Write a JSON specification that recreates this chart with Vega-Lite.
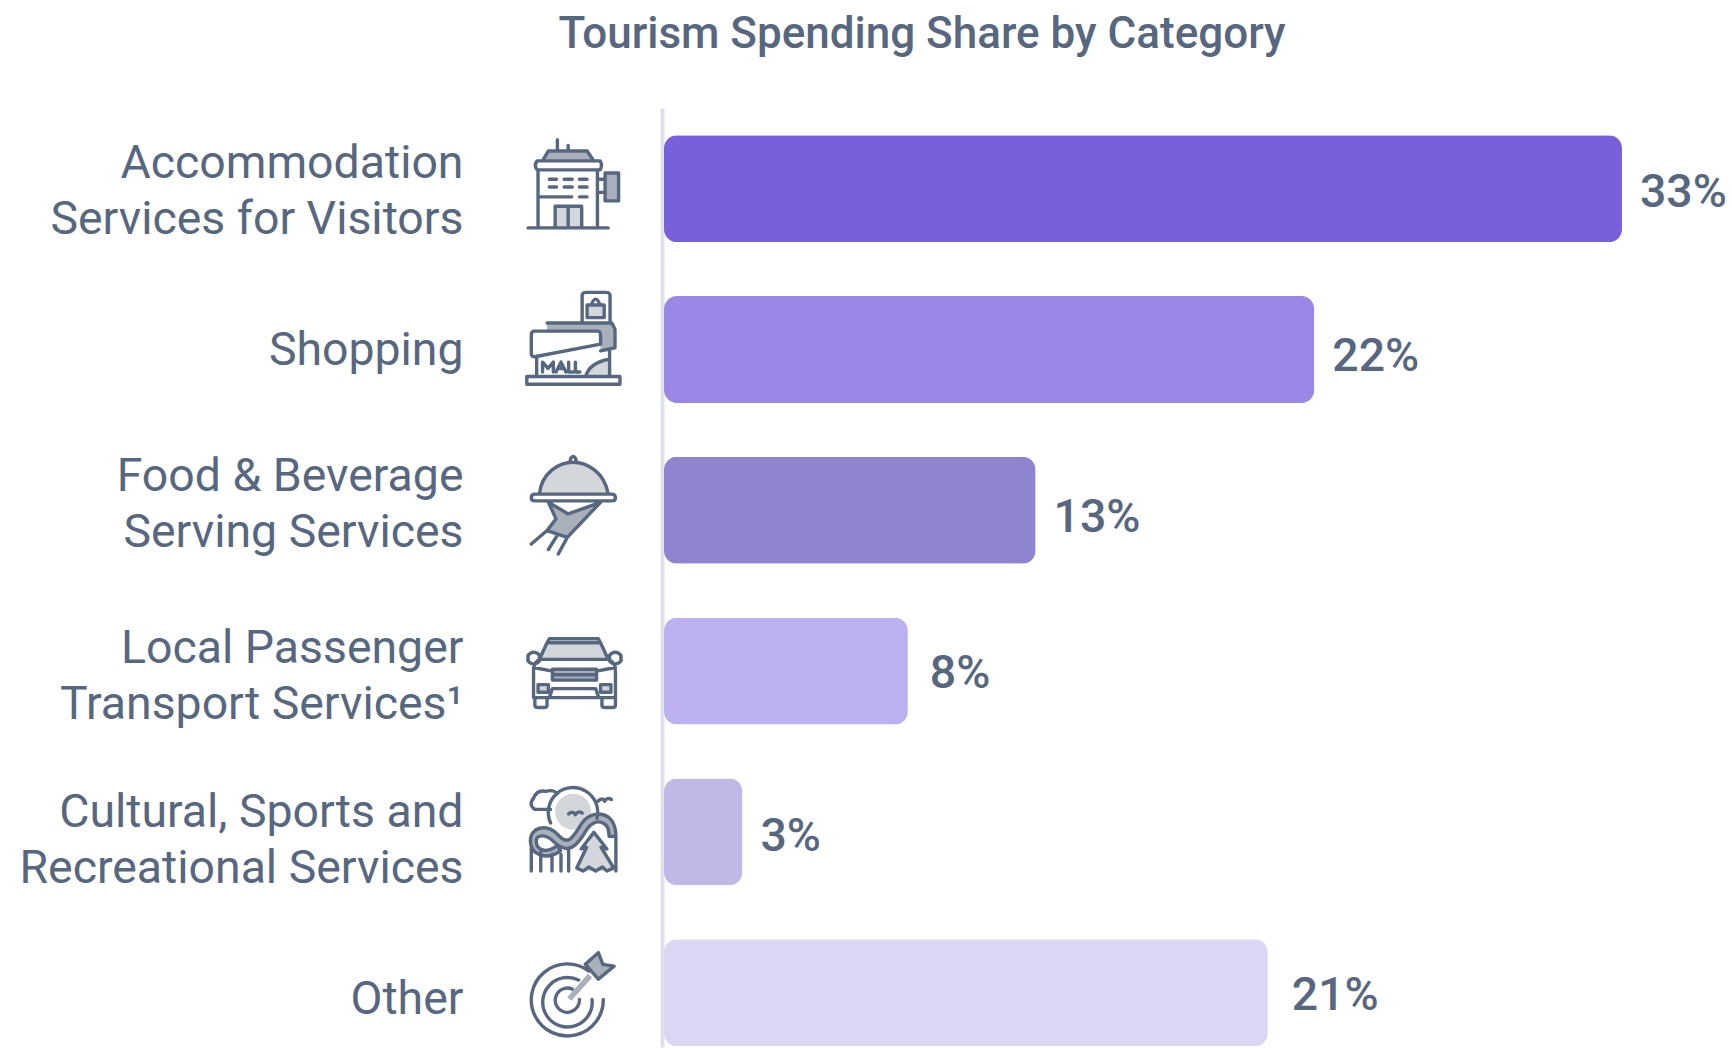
{
"$schema":"https://vega.github.io/schema/vega-lite/v6.json",
"width":1068,"height":939,
"autosize":{"type":"none"},
"padding":{"left":664,"top":108,"right":0,"bottom":1},
"background":"white",
"title":{"text":"Tourism Spending Share by Category","font":"Roboto","fontSize":44,"fontWeight":500,"color":"#56677F","anchor":"middle","frame":"group","dx":-276,"offset":51},
"config":{"view":{"stroke":null}},
"data":{"values":[
{"category":"Accommodation\nServices for Visitors","share":33,"label":"33%"},
{"category":"Shopping","share":22.4,"label":"22%"},
{"category":"Food & Beverage\nServing Services","share":12.8,"label":"13%"},
{"category":"Local Passenger\nTransport Services¹","share":8.4,"label":"8%"},
{"category":"Cultural, Sports and\nRecreational Services","share":2.7,"label":"3%"},
{"category":"Other","share":20.8,"label":"21%"}
]},
"resolve":{"scale":{"shape":"independent"}},
"encoding":{
"y":{"field":"category","type":"nominal","sort":null,"title":null,
"scale":{"domain":["Accommodation\nServices for Visitors","Shopping","Food & Beverage\nServing Services","Local Passenger\nTransport Services¹","Cultural, Sports and\nRecreational Services","Other"],"paddingInner":0.335,"paddingOuter":0.0875,"align":0.97},
"axis":{"orient":"left","offset":2,"ticks":false,"grid":false,"domainColor":"#DEE1EC","domainWidth":4,"labelPadding":199,"labelFont":"Roboto","labelFontSize":46.4,"labelColor":"#56677F","labelLineHeight":56,"labelLimit":600,"labelBaseline":"middle","labelAlign":"right","labelBound":false,"labelOverlap":false,"labelExpr":"split(datum.label,'\\n')",
"labelOffset":{"expr":"datum.value=='Shopping'?1:datum.value=='Other'?7:indexof(datum.value,'Accommodation')==0?-25:indexof(datum.value,'Food')==0?-33:indexof(datum.value,'Local')==0?-22:-19"}}}
},
"layer":[
{"mark":{"type":"bar","cornerRadius":13},
"encoding":{
"x":{"field":"share","type":"quantitative","title":null,"axis":null,"scale":{"domain":[0,36.79],"nice":false,"zero":false}},
"color":{"field":"category","type":"nominal","legend":null,"scale":{"domain":["Accommodation\nServices for Visitors","Shopping","Food & Beverage\nServing Services","Local Passenger\nTransport Services¹","Cultural, Sports and\nRecreational Services","Other"],"range":["#7860DC","#9B87E5","#8F84CF","#BCB0EE","#C0B8E6","#DCD6F5"]}}}},
{"mark":{"type":"text","align":"left","baseline":"middle","dx":{"expr":"datum.label=='8%'?22:datum.label=='21%'?24:18"},"dy":{"expr":"datum.label=='33%'?4:datum.label=='22%'||datum.label=='13%'?7.5:datum.label=='3%'?5:3"},"font":"Roboto","fontSize":46.4,"fontWeight":500,"color":"#56677F"},
"encoding":{"x":{"field":"share","type":"quantitative"},"text":{"field":"label"}}},
{"mark":{"type":"point","filled":true,"color":"#D3D7DC","opacity":1,"size":8100,"strokeWidth":0},
"encoding":{"x":{"datum":-3.13},
"shape":{"field":"category","type":"nominal","legend":null,"scale":{"domain":["Accommodation\nServices for Visitors","Shopping","Food & Beverage\nServing Services","Local Passenger\nTransport Services¹","Cultural, Sports and\nRecreational Services","Other"],"range":[
"M-.4 .39L.19 .39L.19 .87L-.4 .87Z",
"M.81 .21L.81 .6L.28 .6Q.35 .3 .81 .21ZM.31 -.71L.69 -.71L.69 -.99L.31 -.99Z",
"M-.75 -.36C-.7 -.85 -.3 -1.07 0 -1.07C.3 -1.07 .7 -.85 .78 -.36Z",
"M-.58 -.63L.61 -.63L.78 -.26L-.75 -.26ZM-.78 .3L-.55 .3L-.55 .47L-.78 .47ZM.61 .3L.84 .3L.84 .47L.61 .47Z",
"M-.4 -.45A.4 .4 0 1 1 .4 -.45A.4 .4 0 1 1 -.4 -.45ZM.46 .01L.9 .87L.08 .87Z",
"M0 0L0 0Z"
]}}}},
{"mark":{"type":"point","filled":true,"color":"#A9B0BA","opacity":1,"size":8100,"strokeWidth":0},
"encoding":{"x":{"datum":-3.13},
"shape":{"field":"category","type":"nominal","legend":null,"scale":{"domain":["Accommodation\nServices for Visitors","Shopping","Food & Beverage\nServing Services","Local Passenger\nTransport Services¹","Cultural, Sports and\nRecreational Services","Other"],"range":[
"M-.68 -.62L-.55 -.84L.31 -.84L.46 -.62ZM.71 -.35L1.01 -.35L1.01 .27L.71 .27Z",
"M-.58 -.59L.86 -.59L.93 -.45L.93 -.04L.61 .03L.61 -.41L-.58 -.41Z",
"M-.55 -.18L-.11 .08L.61 -.18L-.13 .6L-.58 .45L-.38 .19Z",
"M-.46 -.04L.52 -.04L.52 .2L-.46 .2Z",
"M-.95 .2C-.95 -.1 -.6 -.2 -.35 .05C-.1 .35 0 .1 .2 -.2C.4 -.5 .95 -.5 .95 .1L.8 .1C.8 -.3 .45 -.3 .3 -.05C.1 .3 -.1 .55 -.45 .2C-.6 .05 -.82 .05 -.82 .2C-.82 .4 -.6 .5 -.35 .3L-.28 .42C-.6 .65 -.95 .5 -.95 .2Z",
"M.27 -.63L.56 -.89L.66 -.63L.91 -.59L.56 -.3ZM-.13 .1L.33 -.42L.42 -.33L-.04 .18Z"
]}}}},
{"mark":{"type":"point","filled":false,"stroke":"#56677F","opacity":1,"size":8100,"strokeWidth":3.4,"strokeJoin":"round","strokeCap":"round"},
"encoding":{"x":{"datum":-3.13},
"shape":{"field":"category","type":"nominal","legend":null,"scale":{"domain":["Accommodation\nServices for Visitors","Shopping","Food & Beverage\nServing Services","Local Passenger\nTransport Services¹","Cultural, Sports and\nRecreational Services","Other"],"range":[
"M-1 .87L.78 .87M-.78 -.42L-.78 .87M.54 -.42L.54 .87M-.8 -.62L.6 -.62Q.66 -.52 .6 -.42L-.8 -.42Q-.88 -.52 -.8 -.62ZM-.68 -.62L-.55 -.84L.31 -.84L.46 -.62M-.35 -1.09L-.35 -.84M-.11 -.96L-.11 -.84M-.53 -.21L-.37 -.21M-.2 -.21L-.02 -.21M.14 -.21L.31 -.21M-.53 -.04L-.37 -.04M-.2 -.04L-.02 -.04M.14 -.04L.31 -.04M-.78 .18L-.03 .18M.14 .18L.31 .18M-.4 .87L-.4 .39L.19 .39L.19 .87M-.11 .39L-.11 .87M.71 -.35L1.01 -.35L1.01 .27L.71 .27ZM.54 -.21L.71 -.21M.54 .08L.71 .08",
"M-1.03 .6L1.04 .6L1.04 .77L-1.03 .77ZM.2 -.61L.2 -1.2Q.2 -1.27 .3 -1.27L.72 -1.27Q.82 -1.27 .82 -1.2L.82 -.61M.31 -.71L.69 -.71L.69 -.99L.31 -.99ZM.4 -.99Q.5 -1.25 .6 -.99M-.58 -.59L.86 -.59L.93 -.45L.93 -.04L.61 .03M-.85 -.41L.55 -.41Q.61 -.41 .61 -.3L.61 -.12L-.85 .16Q-.93 .16 -.93 .08L-.93 -.33Q-.93 -.41 -.85 -.41ZM-.81 .14L-.81 .6M.81 .02L.81 .6M.28 .6Q.35 .3 .81 .21M-.68 .5L-.68 .28L-.56 .42L-.44 .28L-.44 .5M-.38 .5L-.27 .28L-.16 .5M-.32 .42L-.21 .42M-.1 .28L-.1 .5L0 .5M.05 .28L.05 .5L.15 .5",
"M-.85 -.36L.86 -.36Q.94 -.36 .94 -.28Q.94 -.21 .86 -.21L-.85 -.21Q-.93 -.21 -.93 -.28Q-.93 -.36 -.85 -.36ZM-.75 -.36C-.7 -.85 -.3 -1.07 0 -1.07C.3 -1.07 .7 -.85 .78 -.36M-.07 -1.07Q-.07 -1.18 0 -1.2Q.07 -1.18 .07 -1.07M-.55 -.18L-.11 .08L.61 -.18L-.13 .6L-.58 .45L-.38 .19ZM-.58 .45L-.93 .75M-.35 .55L-.55 .87M-.13 .6L-.33 .97",
"M-.58 -.63L-.53 -.72L.56 -.72L.61 -.63L.78 -.26L-.75 -.26ZM-.58 -.63L.61 -.63M-.75 -.26Q-.88 -.2 -.88 0L-.88 .59L.94 .59L.94 0Q.94 -.2 .78 -.26M-.75 -.29A.13 .1 0 1 1 -1 -.29A.13 .1 0 1 1 -.75 -.29M1.06 -.29A.13 .1 0 1 1 .81 -.29A.13 .1 0 1 1 1.06 -.29M-.88 -.08L-.46 0M.94 -.08L.52 0M-.46 -.04L.52 -.04L.52 .2L-.46 .2ZM-.46 .08L.52 .08M-.78 .3L-.55 .3L-.55 .47L-.78 .47ZM.61 .3L.84 .3L.84 .47L.61 .47ZM-.46 .39L.5 .39L.56 .56M-.46 .39L-.52 .56M-.85 .59L-.85 .76Q-.85 .81 -.78 .81L-.65 .81Q-.58 .81 -.58 .76L-.58 .59M.64 .59L.64 .76Q.64 .81 .71 .81L.87 .81Q.94 .81 .94 .76L.94 .59",
"M-.5 -.2A.55 .55 0 1 1 .53 -.3M-.5 -.5L-.85 -.5Q-1 -.6 -.88 -.75Q-.8 -.95 -.6 -.9Q-.45 -.95 -.35 -.85M.55 -.68Q.65 -.78 .7 -.68Q.75 -.78 .85 -.72M-.1 -.4Q0 -.48 .05 -.38Q.1 -.48 .2 -.42M-.95 .2C-.95 -.1 -.6 -.2 -.35 .05C-.1 .35 0 .1 .2 -.2C.4 -.5 .95 -.5 .95 .1L.8 .1C.8 -.3 .45 -.3 .3 -.05C.1 .3 -.1 .55 -.45 .2C-.6 .05 -.82 .05 -.82 .2C-.82 .4 -.6 .5 -.35 .3L-.28 .42C-.6 .65 -.95 .5 -.95 .2ZM-.93 .35L-.93 .87M-.72 .45L-.72 .87M-.47 .5L-.47 .87M-.27 .5L-.27 .87M-.1 .4L-.1 .87M.95 .1L.95 .87M.46 .01L.75 .38L.62 .34L.9 .8L.75 .87L.65 .78L.5 .87L.35 .78L.22 .87L.08 .8L.3 .34L.18 .38Z",
"M.35 -.48A.8 .8 0 1 0 .67 .15M.12 -.28A.55 .55 0 1 0 .42 .15M-.02 -.08A.27 .27 0 1 0 .14 .15M.27 -.63L.56 -.89L.66 -.63L.91 -.59L.56 -.3Z"
]}}}}
]
}
